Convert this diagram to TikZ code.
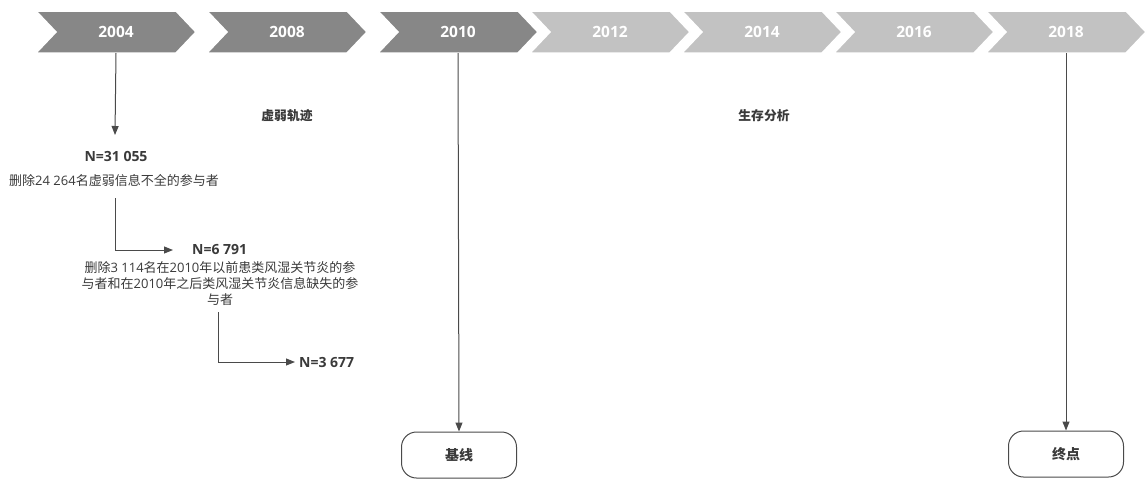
\documentclass[tikz,border=0pt]{standalone}
\usepackage{fontspec}
\setmainfont{Open Sans}
\newfontfamily\cjk{Noto Sans CJK SC}
\usetikzlibrary{arrows.meta}
\definecolor{chevdark}{HTML}{878787}
\definecolor{chevlight}{HTML}{C2C2C2}
\definecolor{txt}{HTML}{3A3A3A}
\definecolor{ln}{HTML}{4A4A4A}
\tikzset{
  chev/.style={draw=white, line width=1.5pt},
  year/.style={text=white, font=\fontsize{15.5}{17}\selectfont\bfseries, inner sep=0pt},
  bold/.style={text=txt, font=\fontsize{14}{16}\selectfont\bfseries, inner sep=1pt},
  lab/.style={text=txt, font=\fontsize{12.8}{15}\selectfont\bfseries, inner sep=1pt},
  plain/.style={text=txt, font=\fontsize{13}{16}\selectfont, align=center, inner sep=1pt},
  arr/.style={draw=ln, line width=1pt, -{Triangle[length=9pt,width=7pt]}},
  term/.style={draw=ln, line width=1pt, rounded corners=15pt, minimum width=115pt, minimum height=46pt, text=txt, font=\fontsize{14}{16}\selectfont\bfseries}
}
\begin{document}
\begin{tikzpicture}[x=1pt,y=-1pt]
\useasboundingbox[fill=white] (0,0) rectangle (1147,480);
% chevrons
\foreach \xo/\yr/\col in {36/2004/chevdark,207/2008/chevdark,378/2010/chevdark,530/2012/chevlight,682/2014/chevlight,834/2016/chevlight,986/2018/chevlight}{
  \path[chev, fill=\col] (\xo,11) -- ++(140,0) -- ++(20,21) -- ++(-20,21) -- ++(-140,0) -- ++(20,-21) -- cycle;
}
\foreach \xo/\yr in {36/2004,207/2008,378/2010,530/2012,682/2014,834/2016,986/2018}{
  \node[year] (y\yr) at (\xo+80,32) {\yr};
  \coordinate (c\yr) at (\xo+80,53);
}
% section labels
\node[lab] (lab1) at (287,116) {\cjk 虚弱轨迹};
\node[lab] (lab2) at (764,116) {\cjk 生存分析};
% flow
\coordinate (a1) at (115,135);
\draw[arr] (c2004) -- (a1);
\node[bold] (n1) at (116,156) {N=31 055};
\node[plain] (d1) at (114,181) {{\cjk 删除}24 264{\cjk 名虚弱信息不全的参与者}};
\coordinate (s1) at (115,198);
\node[bold, anchor=west] (n2) at (191,250) {N=6 791};
\draw[arr] (s1) |- ([xshift=-18pt]n2.west);
\node[plain] (d2) at (220,284) {{\cjk 删除}3 114{\cjk 名在}2010{\cjk 年以前患类风湿关节炎的参}\\{\cjk 与者和在}2010{\cjk 年之后类风湿关节炎信息缺失的参}\\{\cjk 与者}};
\coordinate (s2) at (218,312);
\node[bold, anchor=west] (n3) at (298,362) {N=3 677};
\draw[arr] (s2) |- ([xshift=-3pt]n3.west);
% terminals
\node[term] (t1) at (459,455) {\cjk 基线};
\node[term] (t2) at (1066,454) {\cjk 终点};
\draw[arr] (c2010) -- (t1.north);
\draw[arr] (c2018) -- (t2.north);
\end{tikzpicture}
\end{document}
